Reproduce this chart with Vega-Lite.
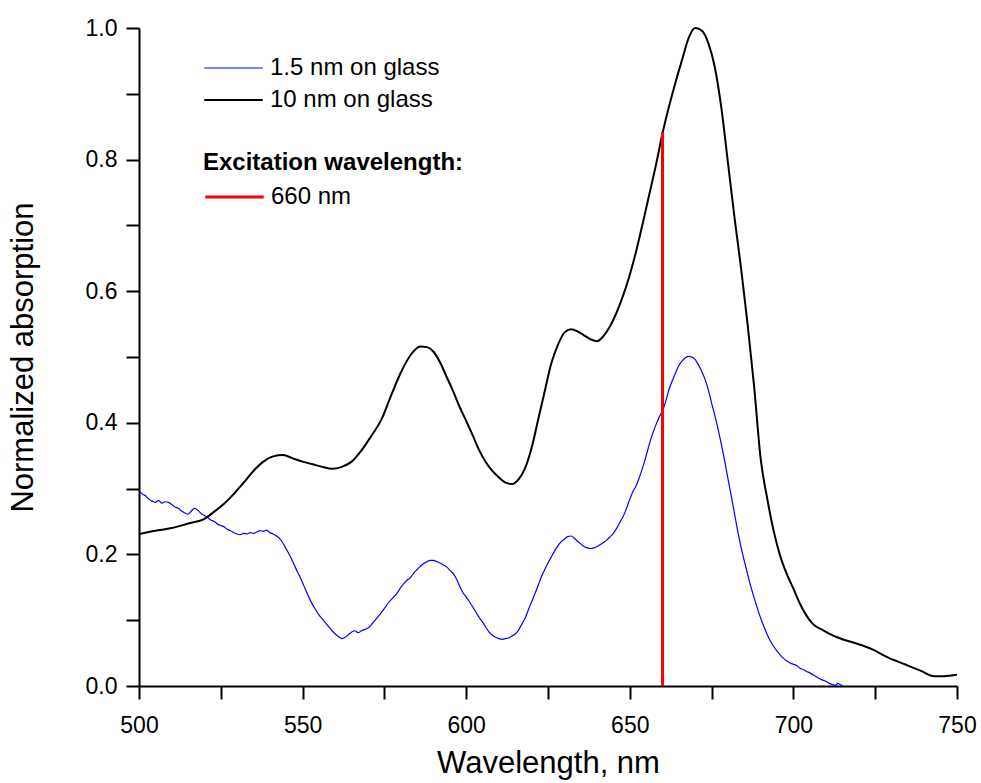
{
  "$schema": "https://vega.github.io/schema/vega-lite/v6.json",
  "width": 818,
  "height": 658,
  "autosize": {"type": "none"},
  "padding": {"left": 139, "top": 28, "right": 24, "bottom": 97},
  "background": "white",
  "config": {
    "view": {"stroke": null},
    "font": "Liberation Sans",
    "axis": {
      "domainColor": "black", "domainWidth": 2, "tickColor": "black", "tickWidth": 2,
      "labelColor": "black", "titleColor": "black", "grid": false,
      "labelFont": "Liberation Sans", "titleFont": "Liberation Sans",
      "labelFontSize": 23, "titleFontSize": 31, "titleFontWeight": "normal"
    },
    "legend": {"labelFont": "Liberation Sans", "titleFont": "Liberation Sans", "labelColor": "black", "titleColor": "black"}
  },
  "datasets": {
    "spectra": [
      {"wl":500,"a":0.231,"s":"10 nm on glass"},{"wl":505,"a":0.236,"s":"10 nm on glass"},{"wl":510,"a":0.240,"s":"10 nm on glass"},{"wl":515,"a":0.247,"s":"10 nm on glass"},{"wl":520,"a":0.254,"s":"10 nm on glass"},{"wl":523,"a":0.265,"s":"10 nm on glass"},{"wl":526,"a":0.277,"s":"10 nm on glass"},{"wl":529,"a":0.292,"s":"10 nm on glass"},{"wl":532,"a":0.309,"s":"10 nm on glass"},{"wl":535,"a":0.327,"s":"10 nm on glass"},{"wl":538,"a":0.341,"s":"10 nm on glass"},{"wl":541,"a":0.349,"s":"10 nm on glass"},{"wl":544,"a":0.351,"s":"10 nm on glass"},{"wl":547,"a":0.346,"s":"10 nm on glass"},{"wl":550,"a":0.341,"s":"10 nm on glass"},{"wl":553,"a":0.337,"s":"10 nm on glass"},{"wl":556,"a":0.333,"s":"10 nm on glass"},{"wl":559,"a":0.330,"s":"10 nm on glass"},{"wl":562,"a":0.333,"s":"10 nm on glass"},{"wl":565,"a":0.341,"s":"10 nm on glass"},{"wl":568,"a":0.358,"s":"10 nm on glass"},{"wl":571,"a":0.380,"s":"10 nm on glass"},{"wl":574,"a":0.404,"s":"10 nm on glass"},{"wl":577,"a":0.441,"s":"10 nm on glass"},{"wl":580,"a":0.476,"s":"10 nm on glass"},{"wl":583,"a":0.503,"s":"10 nm on glass"},{"wl":586,"a":0.516,"s":"10 nm on glass"},{"wl":588,"a":0.515,"s":"10 nm on glass"},{"wl":590,"a":0.508,"s":"10 nm on glass"},{"wl":592,"a":0.492,"s":"10 nm on glass"},{"wl":594,"a":0.470,"s":"10 nm on glass"},{"wl":596,"a":0.448,"s":"10 nm on glass"},{"wl":598,"a":0.424,"s":"10 nm on glass"},{"wl":600,"a":0.403,"s":"10 nm on glass"},{"wl":602,"a":0.381,"s":"10 nm on glass"},{"wl":604,"a":0.358,"s":"10 nm on glass"},{"wl":606,"a":0.340,"s":"10 nm on glass"},{"wl":608,"a":0.327,"s":"10 nm on glass"},{"wl":610,"a":0.317,"s":"10 nm on glass"},{"wl":612,"a":0.309,"s":"10 nm on glass"},{"wl":614,"a":0.307,"s":"10 nm on glass"},{"wl":616,"a":0.314,"s":"10 nm on glass"},{"wl":618,"a":0.331,"s":"10 nm on glass"},{"wl":620,"a":0.362,"s":"10 nm on glass"},{"wl":622,"a":0.405,"s":"10 nm on glass"},{"wl":624,"a":0.448,"s":"10 nm on glass"},{"wl":626,"a":0.490,"s":"10 nm on glass"},{"wl":628,"a":0.518,"s":"10 nm on glass"},{"wl":630,"a":0.537,"s":"10 nm on glass"},{"wl":632,"a":0.542,"s":"10 nm on glass"},{"wl":634,"a":0.539,"s":"10 nm on glass"},{"wl":636,"a":0.533,"s":"10 nm on glass"},{"wl":638,"a":0.527,"s":"10 nm on glass"},{"wl":640,"a":0.524,"s":"10 nm on glass"},{"wl":642,"a":0.532,"s":"10 nm on glass"},{"wl":644,"a":0.547,"s":"10 nm on glass"},{"wl":646,"a":0.568,"s":"10 nm on glass"},{"wl":648,"a":0.594,"s":"10 nm on glass"},{"wl":650,"a":0.625,"s":"10 nm on glass"},{"wl":652,"a":0.662,"s":"10 nm on glass"},{"wl":654,"a":0.704,"s":"10 nm on glass"},{"wl":656,"a":0.748,"s":"10 nm on glass"},{"wl":658,"a":0.792,"s":"10 nm on glass"},{"wl":660,"a":0.840,"s":"10 nm on glass"},{"wl":662,"a":0.881,"s":"10 nm on glass"},{"wl":664,"a":0.918,"s":"10 nm on glass"},{"wl":666,"a":0.952,"s":"10 nm on glass"},{"wl":668,"a":0.985,"s":"10 nm on glass"},{"wl":670,"a":1.000,"s":"10 nm on glass"},{"wl":672,"a":0.996,"s":"10 nm on glass"},{"wl":674,"a":0.977,"s":"10 nm on glass"},{"wl":676,"a":0.940,"s":"10 nm on glass"},{"wl":678,"a":0.878,"s":"10 nm on glass"},{"wl":680,"a":0.795,"s":"10 nm on glass"},{"wl":682,"a":0.712,"s":"10 nm on glass"},{"wl":684,"a":0.635,"s":"10 nm on glass"},{"wl":686,"a":0.550,"s":"10 nm on glass"},{"wl":688,"a":0.455,"s":"10 nm on glass"},{"wl":690,"a":0.345,"s":"10 nm on glass"},{"wl":692,"a":0.285,"s":"10 nm on glass"},{"wl":694,"a":0.235,"s":"10 nm on glass"},{"wl":696,"a":0.197,"s":"10 nm on glass"},{"wl":698,"a":0.170,"s":"10 nm on glass"},{"wl":700,"a":0.148,"s":"10 nm on glass"},{"wl":702,"a":0.125,"s":"10 nm on glass"},{"wl":704,"a":0.107,"s":"10 nm on glass"},{"wl":706,"a":0.094,"s":"10 nm on glass"},{"wl":709,"a":0.085,"s":"10 nm on glass"},{"wl":712,"a":0.077,"s":"10 nm on glass"},{"wl":715,"a":0.071,"s":"10 nm on glass"},{"wl":719,"a":0.065,"s":"10 nm on glass"},{"wl":724,"a":0.056,"s":"10 nm on glass"},{"wl":729,"a":0.043,"s":"10 nm on glass"},{"wl":734,"a":0.033,"s":"10 nm on glass"},{"wl":739,"a":0.023,"s":"10 nm on glass"},{"wl":743,"a":0.015,"s":"10 nm on glass"},{"wl":746,"a":0.015,"s":"10 nm on glass"},{"wl":750,"a":0.017,"s":"10 nm on glass"},

      {"wl":500,"a":0.297,"s":"1.5 nm on glass"},{"wl":501,"a":0.292,"s":"1.5 nm on glass"},{"wl":502,"a":0.289,"s":"1.5 nm on glass"},{"wl":503,"a":0.284,"s":"1.5 nm on glass"},{"wl":504,"a":0.281,"s":"1.5 nm on glass"},{"wl":505,"a":0.279,"s":"1.5 nm on glass"},{"wl":506,"a":0.282,"s":"1.5 nm on glass"},{"wl":507,"a":0.278,"s":"1.5 nm on glass"},{"wl":508,"a":0.280,"s":"1.5 nm on glass"},{"wl":509,"a":0.279,"s":"1.5 nm on glass"},{"wl":510,"a":0.276,"s":"1.5 nm on glass"},{"wl":511,"a":0.272,"s":"1.5 nm on glass"},{"wl":512,"a":0.270,"s":"1.5 nm on glass"},{"wl":513,"a":0.266,"s":"1.5 nm on glass"},{"wl":514,"a":0.263,"s":"1.5 nm on glass"},{"wl":515,"a":0.261,"s":"1.5 nm on glass"},{"wl":516,"a":0.266,"s":"1.5 nm on glass"},{"wl":517,"a":0.270,"s":"1.5 nm on glass"},{"wl":518,"a":0.267,"s":"1.5 nm on glass"},{"wl":519,"a":0.262,"s":"1.5 nm on glass"},{"wl":520,"a":0.259,"s":"1.5 nm on glass"},{"wl":521,"a":0.256,"s":"1.5 nm on glass"},{"wl":522,"a":0.252,"s":"1.5 nm on glass"},{"wl":523,"a":0.250,"s":"1.5 nm on glass"},{"wl":524,"a":0.246,"s":"1.5 nm on glass"},{"wl":525,"a":0.244,"s":"1.5 nm on glass"},{"wl":526,"a":0.242,"s":"1.5 nm on glass"},{"wl":527,"a":0.238,"s":"1.5 nm on glass"},{"wl":528,"a":0.236,"s":"1.5 nm on glass"},{"wl":529,"a":0.233,"s":"1.5 nm on glass"},{"wl":530,"a":0.231,"s":"1.5 nm on glass"},{"wl":531,"a":0.230,"s":"1.5 nm on glass"},{"wl":532,"a":0.232,"s":"1.5 nm on glass"},{"wl":533,"a":0.231,"s":"1.5 nm on glass"},{"wl":534,"a":0.233,"s":"1.5 nm on glass"},{"wl":535,"a":0.232,"s":"1.5 nm on glass"},{"wl":536,"a":0.234,"s":"1.5 nm on glass"},{"wl":537,"a":0.236,"s":"1.5 nm on glass"},{"wl":538,"a":0.235,"s":"1.5 nm on glass"},{"wl":539,"a":0.237,"s":"1.5 nm on glass"},{"wl":540,"a":0.233,"s":"1.5 nm on glass"},{"wl":541,"a":0.231,"s":"1.5 nm on glass"},{"wl":542,"a":0.228,"s":"1.5 nm on glass"},{"wl":543,"a":0.224,"s":"1.5 nm on glass"},{"wl":544,"a":0.217,"s":"1.5 nm on glass"},{"wl":545,"a":0.208,"s":"1.5 nm on glass"},{"wl":546,"a":0.199,"s":"1.5 nm on glass"},{"wl":547,"a":0.189,"s":"1.5 nm on glass"},{"wl":548,"a":0.178,"s":"1.5 nm on glass"},{"wl":549,"a":0.168,"s":"1.5 nm on glass"},{"wl":550,"a":0.157,"s":"1.5 nm on glass"},{"wl":551,"a":0.145,"s":"1.5 nm on glass"},{"wl":552,"a":0.134,"s":"1.5 nm on glass"},{"wl":553,"a":0.124,"s":"1.5 nm on glass"},{"wl":554,"a":0.116,"s":"1.5 nm on glass"},{"wl":555,"a":0.108,"s":"1.5 nm on glass"},{"wl":556,"a":0.102,"s":"1.5 nm on glass"},{"wl":557,"a":0.096,"s":"1.5 nm on glass"},{"wl":558,"a":0.090,"s":"1.5 nm on glass"},{"wl":559,"a":0.084,"s":"1.5 nm on glass"},{"wl":560,"a":0.079,"s":"1.5 nm on glass"},{"wl":561,"a":0.075,"s":"1.5 nm on glass"},{"wl":562,"a":0.072,"s":"1.5 nm on glass"},{"wl":563,"a":0.074,"s":"1.5 nm on glass"},{"wl":564,"a":0.078,"s":"1.5 nm on glass"},{"wl":565,"a":0.082,"s":"1.5 nm on glass"},{"wl":566,"a":0.084,"s":"1.5 nm on glass"},{"wl":567,"a":0.081,"s":"1.5 nm on glass"},{"wl":568,"a":0.084,"s":"1.5 nm on glass"},{"wl":569,"a":0.086,"s":"1.5 nm on glass"},{"wl":570,"a":0.088,"s":"1.5 nm on glass"},{"wl":571,"a":0.093,"s":"1.5 nm on glass"},{"wl":572,"a":0.099,"s":"1.5 nm on glass"},{"wl":573,"a":0.105,"s":"1.5 nm on glass"},{"wl":574,"a":0.111,"s":"1.5 nm on glass"},{"wl":575,"a":0.118,"s":"1.5 nm on glass"},{"wl":576,"a":0.125,"s":"1.5 nm on glass"},{"wl":577,"a":0.131,"s":"1.5 nm on glass"},{"wl":578,"a":0.136,"s":"1.5 nm on glass"},{"wl":579,"a":0.142,"s":"1.5 nm on glass"},{"wl":580,"a":0.150,"s":"1.5 nm on glass"},{"wl":581,"a":0.156,"s":"1.5 nm on glass"},{"wl":582,"a":0.161,"s":"1.5 nm on glass"},{"wl":583,"a":0.165,"s":"1.5 nm on glass"},{"wl":584,"a":0.172,"s":"1.5 nm on glass"},{"wl":585,"a":0.177,"s":"1.5 nm on glass"},{"wl":586,"a":0.182,"s":"1.5 nm on glass"},{"wl":587,"a":0.186,"s":"1.5 nm on glass"},{"wl":588,"a":0.189,"s":"1.5 nm on glass"},{"wl":589,"a":0.191,"s":"1.5 nm on glass"},{"wl":590,"a":0.191,"s":"1.5 nm on glass"},{"wl":591,"a":0.189,"s":"1.5 nm on glass"},{"wl":592,"a":0.187,"s":"1.5 nm on glass"},{"wl":593,"a":0.184,"s":"1.5 nm on glass"},{"wl":594,"a":0.181,"s":"1.5 nm on glass"},{"wl":595,"a":0.176,"s":"1.5 nm on glass"},{"wl":596,"a":0.171,"s":"1.5 nm on glass"},{"wl":597,"a":0.163,"s":"1.5 nm on glass"},{"wl":598,"a":0.152,"s":"1.5 nm on glass"},{"wl":599,"a":0.142,"s":"1.5 nm on glass"},{"wl":600,"a":0.135,"s":"1.5 nm on glass"},{"wl":601,"a":0.128,"s":"1.5 nm on glass"},{"wl":602,"a":0.120,"s":"1.5 nm on glass"},{"wl":603,"a":0.112,"s":"1.5 nm on glass"},{"wl":604,"a":0.104,"s":"1.5 nm on glass"},{"wl":605,"a":0.097,"s":"1.5 nm on glass"},{"wl":606,"a":0.089,"s":"1.5 nm on glass"},{"wl":607,"a":0.082,"s":"1.5 nm on glass"},{"wl":608,"a":0.077,"s":"1.5 nm on glass"},{"wl":609,"a":0.074,"s":"1.5 nm on glass"},{"wl":610,"a":0.072,"s":"1.5 nm on glass"},{"wl":611,"a":0.071,"s":"1.5 nm on glass"},{"wl":612,"a":0.072,"s":"1.5 nm on glass"},{"wl":613,"a":0.073,"s":"1.5 nm on glass"},{"wl":614,"a":0.076,"s":"1.5 nm on glass"},{"wl":615,"a":0.079,"s":"1.5 nm on glass"},{"wl":616,"a":0.085,"s":"1.5 nm on glass"},{"wl":617,"a":0.094,"s":"1.5 nm on glass"},{"wl":618,"a":0.103,"s":"1.5 nm on glass"},{"wl":619,"a":0.116,"s":"1.5 nm on glass"},{"wl":620,"a":0.128,"s":"1.5 nm on glass"},{"wl":621,"a":0.140,"s":"1.5 nm on glass"},{"wl":622,"a":0.153,"s":"1.5 nm on glass"},{"wl":623,"a":0.166,"s":"1.5 nm on glass"},{"wl":624,"a":0.177,"s":"1.5 nm on glass"},{"wl":625,"a":0.187,"s":"1.5 nm on glass"},{"wl":626,"a":0.196,"s":"1.5 nm on glass"},{"wl":627,"a":0.205,"s":"1.5 nm on glass"},{"wl":628,"a":0.213,"s":"1.5 nm on glass"},{"wl":629,"a":0.219,"s":"1.5 nm on glass"},{"wl":630,"a":0.223,"s":"1.5 nm on glass"},{"wl":631,"a":0.227,"s":"1.5 nm on glass"},{"wl":632,"a":0.228,"s":"1.5 nm on glass"},{"wl":633,"a":0.225,"s":"1.5 nm on glass"},{"wl":634,"a":0.220,"s":"1.5 nm on glass"},{"wl":635,"a":0.216,"s":"1.5 nm on glass"},{"wl":636,"a":0.212,"s":"1.5 nm on glass"},{"wl":637,"a":0.210,"s":"1.5 nm on glass"},{"wl":638,"a":0.209,"s":"1.5 nm on glass"},{"wl":639,"a":0.210,"s":"1.5 nm on glass"},{"wl":640,"a":0.212,"s":"1.5 nm on glass"},{"wl":641,"a":0.215,"s":"1.5 nm on glass"},{"wl":642,"a":0.218,"s":"1.5 nm on glass"},{"wl":643,"a":0.222,"s":"1.5 nm on glass"},{"wl":644,"a":0.227,"s":"1.5 nm on glass"},{"wl":645,"a":0.232,"s":"1.5 nm on glass"},{"wl":646,"a":0.240,"s":"1.5 nm on glass"},{"wl":647,"a":0.249,"s":"1.5 nm on glass"},{"wl":648,"a":0.258,"s":"1.5 nm on glass"},{"wl":649,"a":0.270,"s":"1.5 nm on glass"},{"wl":650,"a":0.284,"s":"1.5 nm on glass"},{"wl":651,"a":0.296,"s":"1.5 nm on glass"},{"wl":652,"a":0.305,"s":"1.5 nm on glass"},{"wl":653,"a":0.318,"s":"1.5 nm on glass"},{"wl":654,"a":0.333,"s":"1.5 nm on glass"},{"wl":655,"a":0.350,"s":"1.5 nm on glass"},{"wl":656,"a":0.368,"s":"1.5 nm on glass"},{"wl":657,"a":0.384,"s":"1.5 nm on glass"},{"wl":658,"a":0.397,"s":"1.5 nm on glass"},{"wl":659,"a":0.409,"s":"1.5 nm on glass"},{"wl":660,"a":0.418,"s":"1.5 nm on glass"},{"wl":661,"a":0.433,"s":"1.5 nm on glass"},{"wl":662,"a":0.451,"s":"1.5 nm on glass"},{"wl":663,"a":0.464,"s":"1.5 nm on glass"},{"wl":664,"a":0.476,"s":"1.5 nm on glass"},{"wl":665,"a":0.487,"s":"1.5 nm on glass"},{"wl":666,"a":0.494,"s":"1.5 nm on glass"},{"wl":667,"a":0.499,"s":"1.5 nm on glass"},{"wl":668,"a":0.501,"s":"1.5 nm on glass"},{"wl":669,"a":0.500,"s":"1.5 nm on glass"},{"wl":670,"a":0.496,"s":"1.5 nm on glass"},{"wl":671,"a":0.488,"s":"1.5 nm on glass"},{"wl":672,"a":0.478,"s":"1.5 nm on glass"},{"wl":673,"a":0.466,"s":"1.5 nm on glass"},{"wl":674,"a":0.450,"s":"1.5 nm on glass"},{"wl":675,"a":0.430,"s":"1.5 nm on glass"},{"wl":676,"a":0.411,"s":"1.5 nm on glass"},{"wl":677,"a":0.390,"s":"1.5 nm on glass"},{"wl":678,"a":0.367,"s":"1.5 nm on glass"},{"wl":679,"a":0.342,"s":"1.5 nm on glass"},{"wl":680,"a":0.315,"s":"1.5 nm on glass"},{"wl":681,"a":0.289,"s":"1.5 nm on glass"},{"wl":682,"a":0.262,"s":"1.5 nm on glass"},{"wl":683,"a":0.235,"s":"1.5 nm on glass"},{"wl":684,"a":0.211,"s":"1.5 nm on glass"},{"wl":685,"a":0.190,"s":"1.5 nm on glass"},{"wl":686,"a":0.170,"s":"1.5 nm on glass"},{"wl":687,"a":0.151,"s":"1.5 nm on glass"},{"wl":688,"a":0.134,"s":"1.5 nm on glass"},{"wl":689,"a":0.118,"s":"1.5 nm on glass"},{"wl":690,"a":0.103,"s":"1.5 nm on glass"},{"wl":691,"a":0.090,"s":"1.5 nm on glass"},{"wl":692,"a":0.078,"s":"1.5 nm on glass"},{"wl":693,"a":0.068,"s":"1.5 nm on glass"},{"wl":694,"a":0.060,"s":"1.5 nm on glass"},{"wl":695,"a":0.053,"s":"1.5 nm on glass"},{"wl":696,"a":0.047,"s":"1.5 nm on glass"},{"wl":697,"a":0.042,"s":"1.5 nm on glass"},{"wl":698,"a":0.038,"s":"1.5 nm on glass"},{"wl":699,"a":0.035,"s":"1.5 nm on glass"},{"wl":700,"a":0.033,"s":"1.5 nm on glass"},{"wl":701,"a":0.031,"s":"1.5 nm on glass"},{"wl":702,"a":0.027,"s":"1.5 nm on glass"},{"wl":703,"a":0.025,"s":"1.5 nm on glass"},{"wl":704,"a":0.022,"s":"1.5 nm on glass"},{"wl":705,"a":0.020,"s":"1.5 nm on glass"},{"wl":706,"a":0.017,"s":"1.5 nm on glass"},{"wl":707,"a":0.014,"s":"1.5 nm on glass"},{"wl":708,"a":0.011,"s":"1.5 nm on glass"},{"wl":709,"a":0.009,"s":"1.5 nm on glass"},{"wl":710,"a":0.007,"s":"1.5 nm on glass"},{"wl":711,"a":0.004,"s":"1.5 nm on glass"},{"wl":712,"a":0.002,"s":"1.5 nm on glass"},{"wl":713,"a":0.001,"s":"1.5 nm on glass"},{"wl":713.5,"a":0.004,"s":"1.5 nm on glass"},{"wl":714,"a":0.003,"s":"1.5 nm on glass"},{"wl":715,"a":0.0,"s":"1.5 nm on glass"}
    ],
    "excitation": [
      {"wl": 660, "a0": 0, "a1": 0.842, "label": "660 nm"}
    ]
  },
  "layer": [
    {
      "data": {"name": "spectra"},
      "mark": {"type": "line", "interpolate": "monotone"},
      "encoding": {
        "x": {
          "field": "wl", "type": "quantitative",
          "scale": {"domain": [500, 750], "nice": false, "zero": false},
          "axis": {
            "title": "Wavelength, nm",
            "values": [500, 525, 550, 575, 600, 625, 650, 675, 700, 725, 750],
            "labelExpr": "datum.value % 50 === 0 ? datum.label : ''",
            "tickSize": 13,
            "labelFontSize": 23,
            "titleFontSize": 31,
            "labelPadding": 15,
            "titlePadding": 11,
            "labelFlush": false,
            "encoding": {"ticks": {"y2": {"signal": "datum.value % 50 === 0 ? 13 : 7"}}}
          }
        },
        "y": {
          "field": "a", "type": "quantitative",
          "scale": {"domain": [0, 1], "nice": false},
          "axis": {
            "title": "Normalized absorption",
            "values": [0, 0.1, 0.2, 0.3, 0.4, 0.5, 0.6, 0.7, 0.8, 0.9, 1.0],
            "labelExpr": "round(datum.value * 10) % 2 === 0 ? format(datum.value, '.1f') : ''",
            "tickSize": 13,
            "labelFontSize": 23,
            "titleFontSize": 31,
            "labelPadding": 9,
            "titlePadding": 46,
            "labelFlush": false,
            "encoding": {"ticks": {"x2": {"signal": "round(datum.value * 10) % 2 === 0 ? -13 : -7"}}}
          }
        },
        "color": {
          "field": "s", "type": "nominal",
          "scale": {"domain": ["1.5 nm on glass", "10 nm on glass"], "range": ["#0000ff", "#000000"]},
          "legend": {
            "title": null, "orient": "none", "legendX": 63, "legendY": 28,
            "symbolType": "M-1,0H5", "symbolSize": 380, "symbolStrokeWidth": 1.5,
            "labelFontSize": 24, "labelOffset": 44, "labelLimit": 500, "rowPadding": 8, "padding": 0
          }
        },
        "strokeWidth": {
          "field": "s", "type": "nominal",
          "scale": {"domain": ["1.5 nm on glass", "10 nm on glass"], "range": [1.2, 2]},
          "legend": null
        }
      }
    },
    {
      "data": {"name": "excitation"},
      "mark": {"type": "rule", "strokeWidth": 3},
      "encoding": {
        "x": {"field": "wl", "type": "quantitative"},
        "y": {"field": "a0", "type": "quantitative"},
        "y2": {"field": "a1"},
        "color": {
          "field": "label", "type": "nominal",
          "scale": {"domain": ["660 nm"], "range": ["#ff0000"]},
          "legend": {
            "title": "Excitation wavelength:", "orient": "none", "legendX": 64, "legendY": 123,
            "titleFontSize": 24, "titleFontWeight": "bold", "titlePadding": 10, "titleLimit": 600,
            "symbolType": "M-1,0H5", "symbolSize": 380, "symbolStrokeWidth": 3,
            "labelFontSize": 24, "labelOffset": 44, "labelLimit": 500, "padding": 0
          }
        }
      }
    }
  ],
  "resolve": {"scale": {"color": "independent", "strokeWidth": "independent"}}
}
